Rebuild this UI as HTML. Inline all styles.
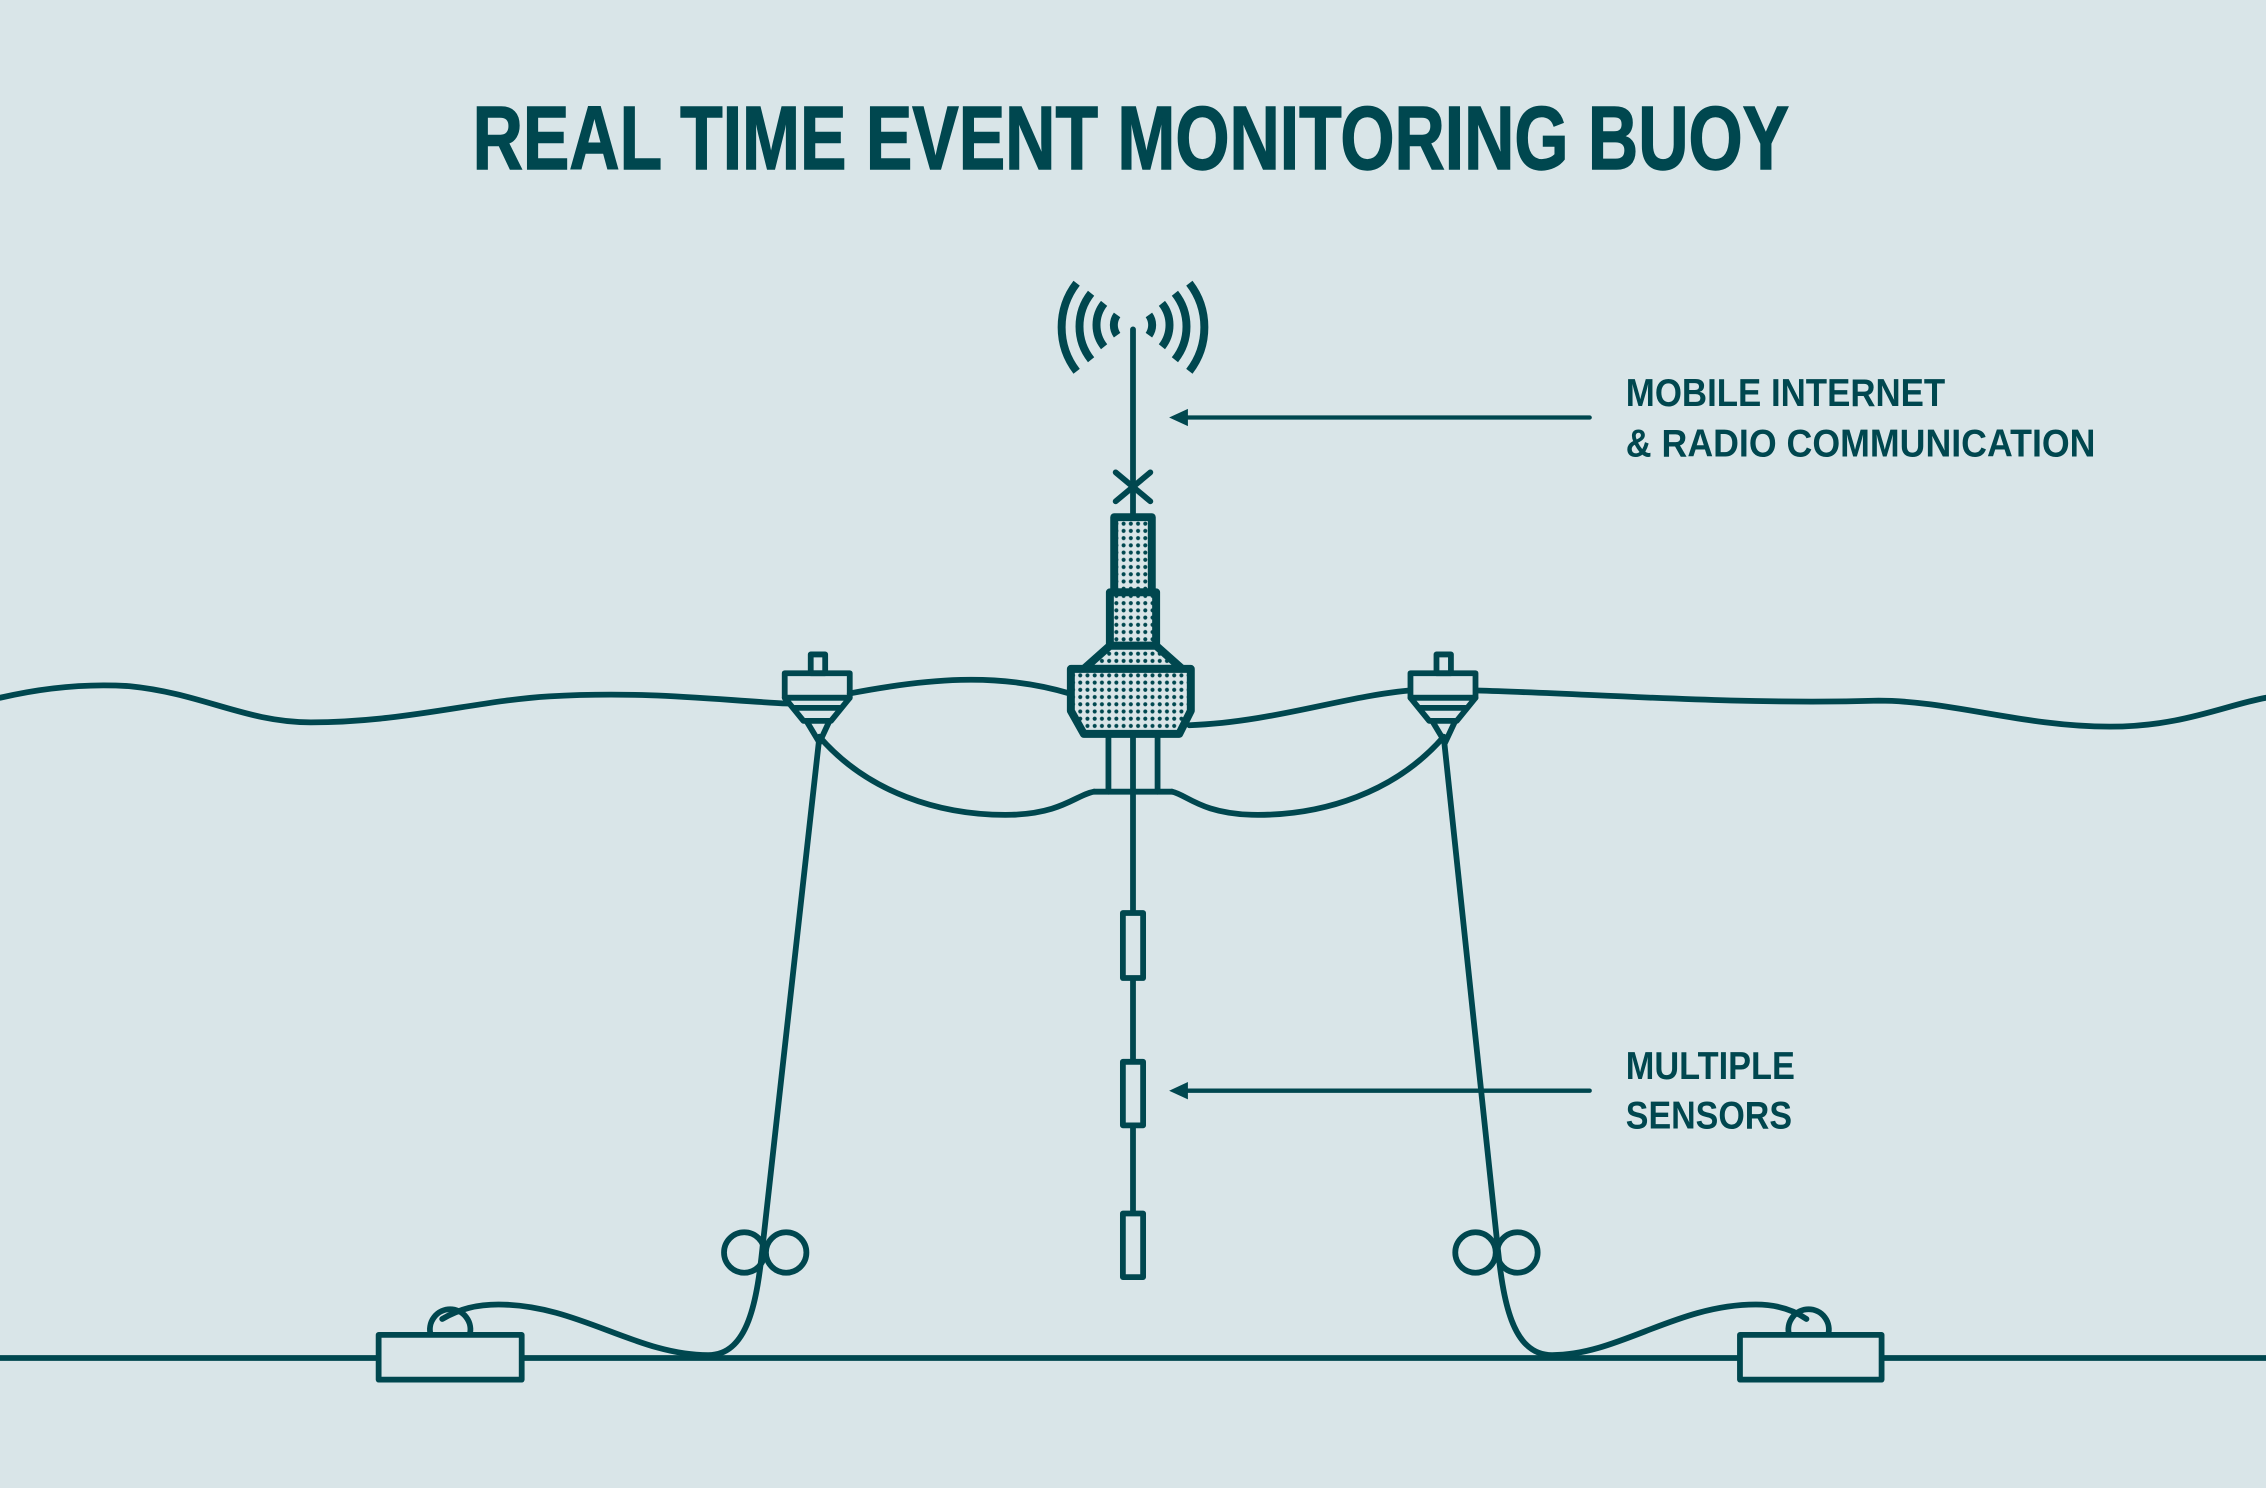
<!DOCTYPE html>
<html><head><meta charset="utf-8"><style>
html,body{margin:0;padding:0;background:#d9e5e8;}
svg{display:block;}
text{font-family:"Liberation Sans Narrow","Liberation Sans",sans-serif;font-weight:bold;fill:#00474f;}
</style></head><body>
<svg width="2266" height="1488" viewBox="0 0 1568 1030" preserveAspectRatio="none" xmlns="http://www.w3.org/2000/svg">
<defs>
<pattern id="dots" width="5" height="5" patternUnits="userSpaceOnUse">
<rect width="5" height="5" fill="#d9e5e8"/>
<circle cx="2.5" cy="2.5" r="1.4" fill="#00474f"/>
</pattern>
</defs>
<rect width="1568" height="1030" fill="#d9e5e8"/>
<text x="327" y="117" font-size="62" textLength="911" lengthAdjust="spacingAndGlyphs" stroke="#00474f" stroke-width="1">REAL TIME EVENT MONITORING BUOY</text>
<text x="1125" y="281" font-size="27" textLength="221" lengthAdjust="spacingAndGlyphs">MOBILE INTERNET</text>
<text x="1125" y="316" font-size="27" textLength="325" lengthAdjust="spacingAndGlyphs">&amp; RADIO COMMUNICATION</text>
<text x="1125" y="747" font-size="27" textLength="117" lengthAdjust="spacingAndGlyphs">MULTIPLE</text>
<text x="1125" y="781" font-size="27" textLength="115" lengthAdjust="spacingAndGlyphs">SENSORS</text>

<g fill="none" stroke="#00474f" stroke-width="4" stroke-linecap="round" stroke-linejoin="round">
<line x1="1100" y1="289" x2="815" y2="289" stroke-width="3"/>
<line x1="1100" y1="755" x2="815" y2="755" stroke-width="3"/>
<line x1="0" y1="940" x2="262" y2="940"/>
<line x1="361" y1="940" x2="1204" y2="940"/>
<line x1="1302" y1="940" x2="1568" y2="940"/>
<path d="M0 483 C30 476 60 473 90 475 C140 480 170 500 215 500 C280 500 330 485 380 482 C450 478 500 485 545 487"/>
<path d="M588 480 C640 470 690 465 740 480"/>
<path d="M823 502 C880 500 930 482 975 478"/>
<path d="M1022 478 C1100 480 1200 488 1300 485 C1350 485 1400 503 1460 503 C1510 503 1540 488 1568 483"/>
<line x1="784" y1="228" x2="784" y2="357"/>
<line x1="772" y1="327" x2="796" y2="347"/>
<line x1="772" y1="347" x2="796" y2="327"/>
<g stroke-width="5.5" stroke-linecap="butt">
<path d="M773 218 A12 12 0 0 0 773 232"/>
<path d="M764 210 A24 24 0 0 0 764 240"/>
<path d="M755 203 A37 37 0 0 0 755 249"/>
<path d="M745 196 A50 50 0 0 0 745 257"/>
<path d="M795 218 A12 12 0 0 1 795 232"/>
<path d="M804 210 A24 24 0 0 1 804 240"/>
<path d="M813 203 A37 37 0 0 1 813 249"/>
<path d="M823 196 A50 50 0 0 1 823 257"/>
</g>
<g fill="url(#dots)" stroke-width="5.5">
<rect x="771" y="358" width="26" height="52"/>
<rect x="768" y="410" width="32" height="37"/>
<path d="M768 447 L800 447 L818 463 L750 463 Z"/>
<path d="M741 463 L824 463 L824 492 L816 508 L750 508 L741 492 Z"/>
</g>
<line x1="767" y1="508" x2="767" y2="548"/>
<line x1="784" y1="508" x2="784" y2="884"/>
<line x1="801" y1="508" x2="801" y2="548"/>
<line x1="757" y1="548" x2="811" y2="548"/>
<rect x="777" y="632" width="14" height="45" fill="#d9e5e8"/>
<rect x="777" y="735" width="14" height="44" fill="#d9e5e8"/>
<rect x="777" y="840" width="14" height="44" fill="#d9e5e8"/>
<path d="M567 510 C600 548 650 565 700 564 C735 563 745 550 757 548"/>
<path d="M999 510 C966 548 916 565 866 564 C831 563 821 550 811 548"/>
<g>
<rect x="561" y="453" width="10" height="13"/>
<rect x="543" y="466" width="45" height="17"/>
<path d="M543 483 L588 483 L575 499 L556 499 Z"/>
<line x1="550" y1="490" x2="581" y2="490"/>
<path d="M558 499 L567 514 L574 499"/>
</g>
<g transform="translate(433,0)">
<rect x="561" y="453" width="10" height="13"/>
<rect x="543" y="466" width="45" height="17"/>
<path d="M543 483 L588 483 L575 499 L556 499 Z"/>
<line x1="550" y1="490" x2="581" y2="490"/>
<path d="M558 499 L567 514 L574 499"/>
</g>
<path d="M567 510 L528 860 C524 900 518 938 490 938 C440 938 400 903 345 903 C330 903 318 906 306 913"/>
<circle cx="515" cy="867" r="14"/>
<circle cx="544" cy="867" r="14"/>
<path d="M298 924 A14 14 0 1 1 325 924"/>
<rect x="262" y="924" width="99" height="31" fill="#d9e5e8"/>
<path d="M999 510 L1036 860 C1040 900 1046 938 1074 938 C1120 938 1160 903 1215 903 C1228 903 1240 906 1250 913"/>
<circle cx="1021" cy="867" r="14"/>
<circle cx="1050" cy="867" r="14"/>
<path d="M1238 924 A14 14 0 1 1 1265 924"/>
<rect x="1204" y="924" width="98" height="31" fill="#d9e5e8"/>
</g>
<path d="M809 289 L822 283 L822 295 Z" fill="#00474f"/>
<path d="M809 755 L822 749 L822 761 Z" fill="#00474f"/>
</svg>
</body></html>
